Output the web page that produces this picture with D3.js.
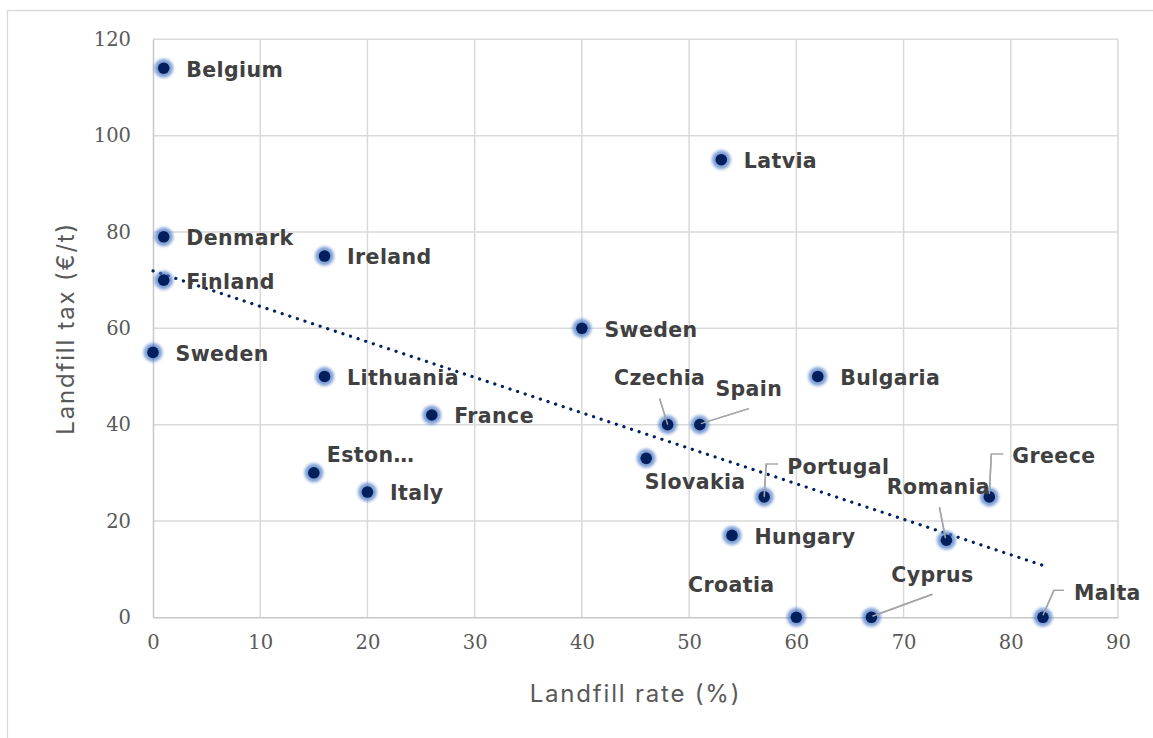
<!DOCTYPE html>
<html>
<head>
<meta charset="utf-8">
<script src="https://cdn.jsdelivr.net/npm/d3@7"></script>
<style>
  html, body { margin: 0; padding: 0; background: #fff; }
  svg { display: block; }
</style>
</head>
<body>
<svg id="chart" width="1153" height="738"></svg>
<script>
// ---- Data ----
const countries = ["Belgium","Latvia","Denmark","Ireland","Finland","Sweden","Sweden","Lithuania","Bulgaria","France","Czechia","Spain","Slovakia","Eston…","Italy","Portugal","Greece","Hungary","Romania","Croatia","Cyprus","Malta"];
const landfillRate = [1, 53, 1, 16, 1, 0, 40, 16, 62, 26, 48, 51, 46, 15, 20, 57, 78, 54, 74, 60, 67, 83];
const landfillTax  = [114, 95, 79, 75, 70, 55, 60, 50, 50, 42, 40, 40, 33, 30, 26, 25, 25, 17, 16, 0, 0, 0];
const xTicks = [0, 10, 20, 30, 40, 50, 60, 70, 80, 90];
const yTicks = [0, 20, 40, 60, 80, 100, 120];
const xTitle = "Landfill rate (%)";
const yTitle = "Landfill tax (€/t)";

// ---- Label layout (pixel offsets relative to the point) ----
const labelLayout = {
  "Czechia":  {anchor:"middle", dx:-8,  dy:-47, leader:[[-8,-26],[0,0]]},
  "Spain":    {anchor:"middle", dx:49,  dy:-36, leader:[[49,-16],[1,-1]]},
  "Slovakia": {anchor:"middle", dx:49,  dy:23},
  "Eston…":   {anchor:"start",  dx:13,  dy:-18},
  "Portugal": {anchor:"start",  dx:23,  dy:-30, leader:[[14,-33],[2,-33],[0,0]]},
  "Greece":   {anchor:"start",  dx:23,  dy:-41, leader:[[14,-43],[2,-43],[0,-3]]},
  "Romania":  {anchor:"middle", dx:-8,  dy:-54, leader:[[-7,-33],[-1,-2]]},
  "Croatia":  {anchor:"middle", dx:-65, dy:-33},
  "Cyprus":   {anchor:"middle", dx:61,  dy:-43, leader:[[61,-23],[1,-1]]},
  "Malta":    {anchor:"start",  dx:31,  dy:-25, leader:[[21,-27],[11,-27],[0,-2]]}
};
const defaultLayout = {anchor:"start", dx:22.5, dy:1};

const data = countries.map((c, i) => ({name: c, x: landfillRate[i], y: landfillTax[i]}));

const svg = d3.select("#chart");
const plot = {left: 153, right: 1118, top: 39.3, bottom: 617.3};

const x = d3.scaleLinear().domain([0, 90]).range([plot.left, plot.right]);
const y = d3.scaleLinear().domain([0, 120]).range([plot.bottom, plot.top]);

// outer frame
svg.append("rect").attr("x", 7.5).attr("y", 10.5).attr("width", 1160).attr("height", 740)
  .attr("fill", "none").attr("stroke", "#d9d9d9").attr("stroke-width", 1.3);

// defs
const defs = svg.append("defs");
const blur = defs.append("filter").attr("id", "glow").attr("x", "-50%").attr("y", "-50%").attr("width", "200%").attr("height", "200%");
blur.append("feGaussianBlur").attr("stdDeviation", 1.8);

// gridlines
const gGrid = svg.append("g");
gGrid.selectAll("line.v").data(xTicks.filter(d => d > 0)).join("line")
  .attr("x1", d => x(d)).attr("x2", d => x(d)).attr("y1", y(0)).attr("y2", y(120))
  .attr("stroke", "#d9d9d9").attr("stroke-width", 1.5);
gGrid.selectAll("line.h").data(yTicks.filter(d => d > 0)).join("line")
  .attr("x1", x(0)).attr("x2", x(90)).attr("y1", d => y(d)).attr("y2", d => y(d))
  .attr("stroke", "#d9d9d9").attr("stroke-width", 1.5);

// axes
const xAxis = d3.axisBottom(x).tickValues(xTicks).tickSize(0).tickPadding(18).tickFormat(d3.format("d"));
const yAxis = d3.axisLeft(y).tickValues(yTicks).tickSize(0).tickPadding(22).tickFormat(d3.format("d"));
const gx = svg.append("g").attr("transform", `translate(0,${plot.bottom})`).call(xAxis);
const gy = svg.append("g").attr("transform", `translate(${plot.left},0)`).call(yAxis);
[gx, gy].forEach(g => {
  g.select(".domain").attr("stroke", "#c8c8c8").attr("stroke-width", 1.5);
  g.selectAll("text").attr("font-family", "'DejaVu Serif', 'Liberation Serif', serif")
    .attr("font-size", 19.5).attr("fill", "#595959");
});

// axis titles
svg.append("text").attr("x", (plot.left + plot.right) / 2).attr("y", 701.5)
  .attr("text-anchor", "middle").attr("font-family", "Inter, 'Noto Sans', sans-serif")
  .attr("font-size", 24).attr("letter-spacing", 1.8).attr("fill", "#595959").text(xTitle);
svg.append("text").attr("transform", `translate(74,${(plot.top + plot.bottom) / 2}) rotate(-90)`)
  .attr("text-anchor", "middle").attr("font-family", "Inter, 'Noto Sans', sans-serif")
  .attr("font-size", 24).attr("letter-spacing", 1.8).attr("fill", "#595959").text(yTitle);

// trendline (linear least squares over the data)
const mx = d3.mean(data, d => d.x), my = d3.mean(data, d => d.y);
const slope = d3.sum(data, d => (d.x - mx) * (d.y - my)) / d3.sum(data, d => (d.x - mx) ** 2);
const intercept = my - slope * mx;
const xMin = d3.min(data, d => d.x), xMax = d3.max(data, d => d.x);
svg.append("line")
  .attr("x1", x(xMin)).attr("y1", y(intercept + slope * xMin))
  .attr("x2", x(xMax)).attr("y2", y(intercept + slope * xMax))
  .attr("stroke", "#002060").attr("stroke-width", 3.2)
  .attr("stroke-linecap", "round").attr("stroke-dasharray", "0.1 7.9");

// leader lines
const gLead = svg.append("g");
data.forEach(d => {
  const L = labelLayout[d.name];
  if (L && L.leader) {
    const px = x(d.x), py = y(d.y);
    gLead.append("path")
      .attr("d", d3.line()(L.leader.map(p => [px + p[0], py + p[1]])))
      .attr("fill", "none").attr("stroke", "#a6a6a6").attr("stroke-width", 1.5);
  }
});

// points
const gPts = svg.append("g");
gPts.selectAll("circle.glow").data(data).join("circle")
  .attr("cx", d => x(d.x)).attr("cy", d => y(d.y)).attr("r", 9.5)
  .attr("fill", "#4a78c4").attr("opacity", 0.7).attr("filter", "url(#glow)");
gPts.selectAll("circle.core").data(data).join("circle")
  .attr("cx", d => x(d.x)).attr("cy", d => y(d.y)).attr("r", 5.8)
  .attr("fill", "#001f5c");

// leader tips over the points
data.forEach(d => {
  const L = labelLayout[d.name];
  if (L && L.leader) {
    const px = x(d.x), py = y(d.y);
    const pts = L.leader.map(p => [px + p[0], py + p[1]]);
    gPts.append("path").attr("d", d3.line()(pts.slice(-2)))
      .attr("fill", "none").attr("stroke", "#a6a6a6").attr("stroke-width", 1.5);
  }
});

// labels
const fs = 20.5;
svg.append("g").selectAll("text").data(data).join("text")
  .attr("x", d => x(d.x) + (labelLayout[d.name] || defaultLayout).dx)
  .attr("y", d => y(d.y) + (labelLayout[d.name] || defaultLayout).dy + fs * 0.36)
  .attr("text-anchor", d => (labelLayout[d.name] || defaultLayout).anchor)
  .attr("font-family", "'DejaVu Sans', Inter, sans-serif").attr("font-weight", 700)
  .attr("font-size", fs).attr("letter-spacing", 0.4).attr("fill", "#404040")
  .text(d => d.name);
</script>
</body>
</html>
